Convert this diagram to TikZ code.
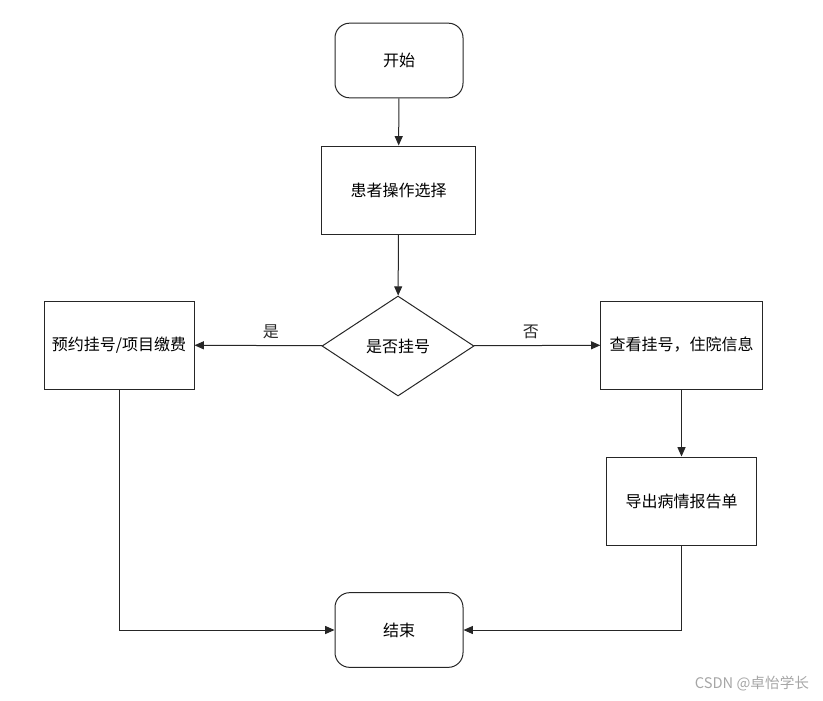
\documentclass[tikz,border=0pt]{standalone}
\usepackage{fontspec}
\setmainfont{Noto Sans CJK SC}
\usetikzlibrary{shapes.geometric}
\usetikzlibrary{arrows.meta}

\begin{document}
\begin{tikzpicture}[x=0.75pt,y=-0.75pt,font=\fontsize{12}{14}\selectfont,
						every node/.style={draw=black!85,line width=0.75pt,inner sep=2pt,align=center},
						term/.style={rounded corners=11pt,minimum width=96pt,minimum height=56pt},
						proc/.style={rectangle,minimum height=66pt},
						choice/.style={diamond,inner sep=0pt,minimum width=114pt,minimum height=75pt},
						flow/.style={draw=black!85,line width=0.75pt,-{Triangle[length=7pt,width=6pt]}},
						lbl/.style={draw=none,text=black!85}
						]
						\useasboundingbox (0,0) rectangle (823,700);
						\node[term](start) at (399,60.5){开始};
						\node[proc,minimum width=115pt](choose) at (398.5,190){患者操作选择};
						\node[choice](decide) at (398,346){是否挂号};
						\node[proc,minimum width=112.5pt](book) at (119,345){预约挂号/项目缴费};
						\node[proc,minimum width=121pt](view) at (681.5,345){查看挂号，住院信息};
						\node[proc,minimum width=113pt](export) at (681.5,501){导出病情报告单};
						\node[term](finish) at (399,630){结束};
						\coordinate (bookturn) at (119,630);
						\coordinate (exportturn) at (681.5,630);
						\draw[flow] (start) -- (choose);
						\draw[flow] (choose) -- (decide);
						\draw[flow] (decide) -- node[lbl,above=3pt,pos=0.4]{是} (book);
						\draw[flow] (decide) -- node[lbl,above=3pt,pos=0.45]{否} (view);
						\draw[flow] (view) -- (export);
						\draw[flow] (book) -- (bookturn) -- (finish);
						\draw[flow] (export) -- (exportturn) -- (finish);
						\node[draw=none,text=black!35,font=\fontsize{11}{13}\selectfont](mark) at (752,684){CSDN @卓怡学长};
						\end{tikzpicture}
\end{document}
